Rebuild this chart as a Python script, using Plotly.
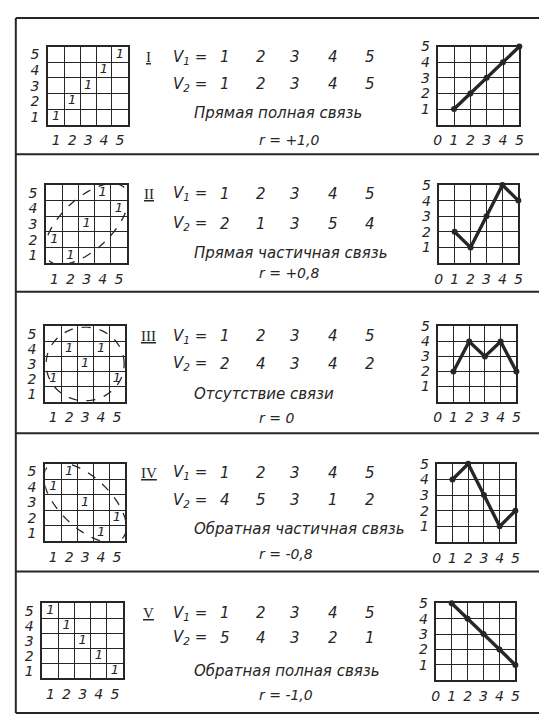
import numpy as np
import plotly.graph_objects as go

W, H = 544, 715

# ---- data ----
v1 = [1, 2, 3, 4, 5]
v2_sets = [
    [1, 2, 3, 4, 5],
    [2, 1, 3, 5, 4],
    [2, 4, 3, 4, 2],
    [4, 5, 3, 1, 2],
    [5, 4, 3, 2, 1],
]
romans = ["I", "II", "III", "IV", "V"]
captions = ["Прямая полная связь", "Прямая частичная связь", "Отсутствие связи",
            "Обратная частичная связь", "Обратная полная связь"]
r_values = ["+1,0", "+0,8", "0", "-0,8", "-1,0"]
matrix_ticks = [1, 2, 3, 4, 5]
line_xticks = [0, 1, 2, 3, 4, 5]
line_yticks = [1, 2, 3, 4, 5]

# ---- layout (pixels) ----
panel_lines = [10, 148, 287, 430, 570, 713]
matrix_boxes = [(45, 126, 39, 118), (43, 125, 179, 258), (42, 123, 322, 398),
                (42, 123, 461, 539), (39, 121, 602, 678)]
chart_boxes = [(441, 524, 39, 118), (442, 523, 179, 258), (441, 521, 322, 398),
               (440, 520, 461, 540), (439, 520, 602, 680)]
text_rows = [(50, 77, 106, 133), (188, 218, 248, 268), (332, 360, 390, 415),
             (470, 498, 527, 552), (612, 637, 671, 695)]
value_x = [225, 261, 296, 335, 372]
ellipses = [None, (45, 3.3, 1.6), (0, 2.45, 2.45), (-45, 3.3, 1.6), None]

INK = "#262626"
FONT = "DejaVu Sans"


def px(x):
    return x / W


def py(y):
    return 1 - y / H


def ellipse_path(angle, a, b, cx=3, cy=3):
    t = np.linspace(0, 2 * np.pi, 80)
    th = np.radians(angle)
    xs = cx + a * np.cos(t) * np.cos(th) - b * np.sin(t) * np.sin(th)
    ys = cy + a * np.cos(t) * np.sin(th) + b * np.sin(t) * np.cos(th)
    pts = " L ".join(f"{x:.3f},{y:.3f}" for x, y in zip(xs, ys))
    return "M " + pts + " Z"


def note(x, y, text, font, xanchor="center"):
    return dict(x=px(x), y=py(y), text=text, showarrow=False, xref="paper", yref="paper",
                xanchor=xanchor, yanchor="middle", font=font)


fig = go.Figure()
layout = {}
annotations = []
shapes = []

for k in range(5):
    mi, ci = 2 * k + 1, 2 * k + 2
    v2 = v2_sets[k]

    # matrix of pairs
    fig.add_trace(go.Scatter(
        x=v1, y=v2, mode="text", text=["1"] * len(v1),
        textfont=dict(family=FONT, size=13, color=INK, style="italic"),
        xaxis=f"x{mi}", yaxis=f"y{mi}", hoverinfo="skip", showlegend=False))

    mx0, mx1, my0, my1 = matrix_boxes[k]
    common_m = dict(range=[0.5, 5.5], tickvals=matrix_ticks, showgrid=False, zeroline=False,
                    showline=True, mirror=True, linecolor=INK, linewidth=2, ticks="",
                    tickfont=dict(family=FONT, size=14, color=INK, style="italic"),
                    minor=dict(tickvals=[1.5, 2.5, 3.5, 4.5], showgrid=True,
                               gridcolor=INK, gridwidth=1.3, ticks=""),
                    fixedrange=True)
    layout[f"xaxis{mi}"] = dict(common_m, domain=[px(mx0), px(mx1)], anchor=f"y{mi}", ticklabelstandoff=2)
    layout[f"yaxis{mi}"] = dict(common_m, domain=[py(my1), py(my0)], anchor=f"x{mi}", ticklabelstandoff=4)

    # line chart
    fig.add_trace(go.Scatter(
        x=v1, y=v2, mode="lines+markers",
        line=dict(color=INK, width=3.4), marker=dict(color=INK, size=6),
        cliponaxis=False,
        xaxis=f"x{ci}", yaxis=f"y{ci}", hoverinfo="skip", showlegend=False))

    cx0, cx1, cy0, cy1 = chart_boxes[k]
    common_c = dict(range=[0, 5], dtick=1, showgrid=True, gridcolor=INK, gridwidth=1.3,
                    zeroline=False, showline=True, mirror=True, linecolor=INK, linewidth=2,
                    ticks="", tickfont=dict(family=FONT, size=14, color=INK, style="italic"),
                    fixedrange=True)
    layout[f"xaxis{ci}"] = dict(common_c, tickvals=line_xticks, domain=[px(cx0), px(cx1)],
                                anchor=f"y{ci}", ticklabelstandoff=2)
    layout[f"yaxis{ci}"] = dict(common_c, tickvals=line_yticks, domain=[py(cy1), py(cy0)],
                                anchor=f"x{ci}", ticklabelstandoff=3)

    # dashed contour around the pairs
    if ellipses[k]:
        ang, a, b = ellipses[k]
        shapes.append(dict(type="path", path=ellipse_path(ang, a, b),
                           xref=f"x{mi}", yref=f"y{mi}",
                           line=dict(color=INK, width=1.3, dash="dash")))

    # text block
    y_v1, y_v2, y_cap, y_r = text_rows[k]
    tf = dict(family=FONT, size=15, color=INK, style="italic")
    annotations.append(note(147, y_v1, "<u>" + romans[k] + "</u>",
                            dict(family="Liberation Serif", size=15, color=INK)))
    for yy, lbl, vals in [(y_v1, "V<sub>1</sub> =", v1), (y_v2, "V<sub>2</sub> =", v2)]:
        annotations.append(note(189, yy, lbl, tf))
        for xv, val in zip(value_x, vals):
            annotations.append(note(xv, yy, str(val), tf))
    annotations.append(note(191, y_cap, captions[k], tf, xanchor="left"))
    annotations.append(note(257, y_r, "r = " + r_values[k],
                            dict(family=FONT, size=14, color=INK, style="italic"), xanchor="left"))

# frame and separators
for yl in panel_lines:
    shapes.append(dict(type="line", xref="paper", yref="paper", x0=px(12), x1=1,
                       y0=py(yl), y1=py(yl), line=dict(color=INK, width=2)))
shapes.append(dict(type="line", xref="paper", yref="paper", x0=px(12), x1=px(12),
                   y0=py(panel_lines[0]), y1=py(panel_lines[-1]), line=dict(color=INK, width=2)))

fig.update_layout(
    width=W, height=H,
    margin=dict(l=0, r=0, t=0, b=0),
    paper_bgcolor="white", plot_bgcolor="white",
    annotations=annotations, shapes=shapes,
    showlegend=False,
    **layout,
)

# page body has a default margin; drop it so the figure sits at the window origin
fig.write_html("out.html", config={"displayModeBar": False},
               post_script="document.body.style.margin='0';")
